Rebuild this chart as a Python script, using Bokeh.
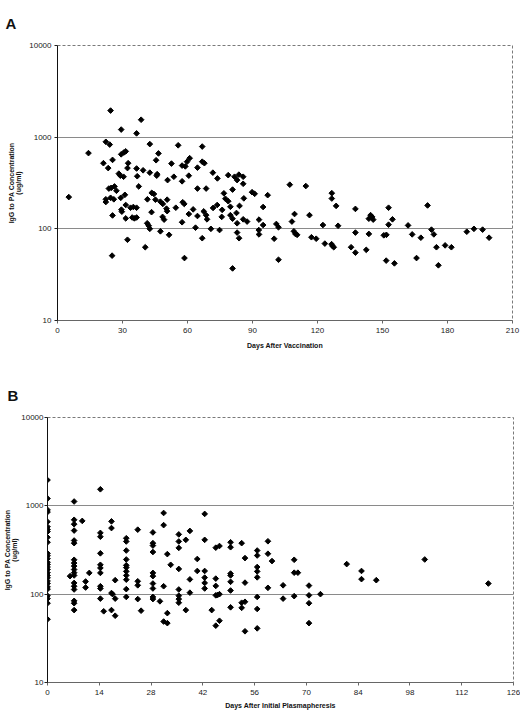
import numpy as np
from bokeh.plotting import figure
from bokeh.models import FixedTicker, PrintfTickFormatter, Range1d
from bokeh.embed import file_html
from bokeh.resources import INLINE

# ---- Panel A: days after vaccination vs IgG to PA (ug/ml) ----
a_days = [24.5, 38.6, 29.4, 36.5, 22.3, 24.1, 42.6, 55.7, 66.8, 14.3, 29.4, 30.6, 31.5, 46.6,
          21.2, 25.4, 23.4, 32.6, 32.3, 36.5, 39.5, 42.6, 45.5, 46.0, 45.8, 52.6, 57.5, 59.8,
          61.0, 59.0, 66.8, 67.8, 64.6, 28.3, 30.5, 29.0, 50.8, 53.7, 57.5, 60.6, 71.7, 73.8,
          78.8, 37.5, 23.7, 24.8, 26.3, 27.2, 22.3, 22.3, 24.5, 26.0, 29.2, 31.1, 29.5, 29.7,
          31.5, 33.7, 36.5, 35.0, 25.4, 31.5, 34.5, 35.5, 36.5, 41.5, 43.5, 44.5, 45.2, 47.5,
          48.6, 50.6, 50.3, 50.6, 43.4, 41.4, 42.1, 42.6, 48.5, 49.2, 47.5, 51.5, 54.6, 57.8,
          58.5, 60.6, 62.6, 57.5, 64.6, 68.6, 64.6, 67.5, 68.6, 69.0, 63.7, 66.8, 70.8, 71.8,
          73.7, 74.8, 76.0, 75.8, 76.8, 77.5, 78.8, 80.8, 79.8, 80.8, 25.2, 32.3, 40.5, 58.6,
          80.8, 5.2, 82.9, 83.8, 36.8,
          81.7, 82.9, 83.7, 85.7, 85.7, 79.8, 84.0, 86.0, 89.8, 91.0, 97.0, 94.9, 82.6, 82.9,
          85.7, 87.5, 93.0, 94.9, 92.9, 93.0, 101.0, 102.0, 100.0, 102.0, 107.2, 114.6, 109.4,
          108.2, 109.1, 109.8, 110.6, 116.3, 117.2, 119.4, 122.5, 123.4, 126.6, 126.6, 128.6,
          129.5, 126.5, 127.5, 126.9, 135.5, 137.5, 137.5, 137.5, 142.5, 143.7, 144.5, 145.2,
          145.7, 143.7,
          152.8, 154.6, 152.8, 150.6, 151.8, 151.7, 155.5, 161.8, 163.7, 167.7, 165.7, 170.8,
          172.6, 173.7, 174.9, 175.8, 178.9, 181.8, 188.9, 192.2, 196.2, 199.2]
a_vals = [1950, 1550, 1210, 1100, 890, 830, 840, 815, 790, 670, 650, 680, 700, 665,
          520, 565, 460, 520, 460, 455, 435, 410, 560, 395, 380, 515, 490, 540,
          590, 480, 540, 520, 465, 400, 370, 380, 340, 370, 330, 380, 410, 355,
          385, 290, 275, 280, 290, 260, 210, 196, 218, 210, 218, 235, 162, 154,
          182, 170, 170, 173, 140, 130, 133, 130, 133, 210, 247, 240, 208, 198,
          187, 208, 166, 156, 152, 115, 108, 100, 135, 126, 94, 86, 170, 195,
          187, 145, 163, 118, 275, 275, 138, 155, 141, 127, 103, 79, 100, 169,
          182, 97, 161, 135, 244, 213, 200, 268, 141, 129, 51, 76, 63, 48,
          37, 222, 91, 79, 375,
          370, 340, 390, 370, 310, 174, 178, 215, 251, 241, 233, 173, 149, 115,
          127, 120, 126, 110, 97, 87, 113, 104, 78, 46, 303, 293, 145,
          120, 94, 88, 86, 141, 81, 78, 110, 69, 245, 214, 178,
          108, 68, 63, 65, 63, 165, 91, 55, 59, 129, 141, 135,
          126, 88,
          170, 127, 111, 85, 86, 45, 42, 109, 87, 80, 48, 180,
          98, 87, 63, 40, 66, 63, 93, 100, 98, 80]

# ---- Panel B: days after initial plasmapheresis vs IgG to PA (ug/ml) ----
b_days = ([0.0] * 28 + [7.2] * 18 +
          [6.1, 9.4, 10.3, 10.3, 11.3] +
          [14.3] * 10 +
          [15.2, 17.3, 17.3, 17.3, 17.6, 18.3, 18.3, 17.3, 18.3] +
          [21.3] * 11 +
          [24.4] * 4 + [25.3] +
          [28.5] * 10 +
          [31.4, 31.4, 32.4, 33.3, 31.4, 30.4, 32.4, 31.4, 32.4] +
          [35.5] * 8 +
          [37.4, 38.5, 37.4, 38.5, 38.5, 40.5, 40.5] +
          [42.5] * 6 +
          [44.4, 45.5, 45.5, 45.5, 46.5, 45.5, 46.0, 46.5, 45.5, 46.5] +
          [49.5] * 7 +
          [52.5, 53.4, 53.4, 52.5, 53.4, 52.5, 53.4] +
          [56.7] * 8 +
          [59.6, 59.6, 60.7, 59.6, 63.7, 63.7, 66.7, 66.7, 67.7, 66.7] +
          [70.7] * 4 +
          [73.8, 80.9, 84.9, 84.9, 88.9, 102.0, 119.2])
b_vals = ([1960, 1210, 900, 850, 660, 580, 540, 510, 440, 387, 290, 272, 252, 230, 217, 203,
           190, 175, 163, 153, 141, 132, 121, 114, 96, 89, 79, 52] +
          [1120, 695, 620, 525, 405, 378, 245, 225, 208, 190, 175, 163, 134, 123, 113, 84, 79, 66] +
          [160, 675, 139, 119, 174] +
          [1540, 494, 447, 290, 215, 198, 174, 123, 116, 89] +
          [64, 667, 560, 103, 100, 89, 144, 66, 57] +
          [430, 395, 312, 247, 212, 200, 181, 163, 146, 114, 93] +
          [537, 140, 126, 88] + [65] +
          [500, 378, 355, 300, 174, 160, 132, 116, 93, 88] +
          [830, 605, 284, 215, 123, 83, 61, 49, 47] +
          [475, 395, 334, 193, 113, 96, 88, 80] +
          [412, 520, 66, 147, 104, 250, 183] +
          [810, 412, 183, 154, 134, 116] +
          [66, 150, 124, 336, 351, 97, 98, 100, 44, 50] +
          [387, 340, 171, 163, 138, 110, 71] +
          [378, 256, 135, 80, 82, 70, 38] +
          [312, 274, 203, 181, 155, 93, 68, 41] +
          [397, 287, 237, 118, 126, 89, 245, 175, 175, 95] +
          [125, 97, 79, 47] +
          [100, 219, 183, 148, 144, 247, 132])

y_ticks = [10, 100, 1000, 10000]
grid_ticks = [100, 1000]
a_xticks = [0, 30, 60, 90, 120, 150, 180, 210]
b_xticks = [0, 14, 28, 42, 56, 70, 84, 98, 112, 126]

FONT = "Liberation Sans"


def make_panel(days, vals, xticks, xlabel, letter, height, top, bottom, left, right,
               xlab_standoff, ylab_standoff, ytick_standoff, title_standoff):
    p = figure(width=520, height=height,
               x_range=Range1d(xticks[0], xticks[-1]), y_range=Range1d(10, 10000),
               y_axis_type="log", output_backend="svg", toolbar_location=None,
               min_border_left=left, min_border_right=right,
               min_border_top=top, min_border_bottom=bottom)
    p.background_fill_color = "white"
    p.border_fill_color = "white"
    p.outline_line_color = "#7a7a7a"
    p.outline_line_dash = "3 2"
    p.outline_line_width = 1

    p.xgrid.visible = False
    p.ygrid.ticker = FixedTicker(ticks=grid_ticks)
    p.ygrid.grid_line_color = "#8a8a8a"
    p.ygrid.grid_line_width = 1

    p.yaxis.ticker = FixedTicker(ticks=y_ticks)
    p.yaxis.formatter = PrintfTickFormatter(format="%d")
    p.xaxis.ticker = FixedTicker(ticks=xticks)
    for ax in (p.xaxis, p.yaxis):
        ax.minor_tick_line_color = None
        ax.major_tick_in = 0
        ax.major_tick_out = 3
        ax.major_tick_line_color = "#222222"
        ax.major_label_text_font = FONT
        ax.major_label_text_font_size = "8px"
        ax.major_label_text_color = "#222222"
        ax.axis_label_text_font = FONT
        ax.axis_label_text_font_size = "7px"
        ax.axis_label_text_font_style = "bold"
        ax.axis_label_text_color = "#111111"
        ax.axis_label_text_line_height = 1.1
    p.yaxis.axis_line_color = "#111111"
    p.yaxis.major_label_standoff = ytick_standoff
    p.xaxis.axis_line_color = "#666666"
    p.xaxis.major_tick_line_color = "#666666"
    p.xaxis.major_label_standoff = 4
    p.xaxis.axis_label_standoff = xlab_standoff
    p.yaxis.axis_label_standoff = ylab_standoff
    p.xaxis.axis_label = xlabel
    p.yaxis.axis_label = "IgG to PA Concentration\n(ug/ml)"

    # panel letter as the plot title, pushed to the top-left corner
    p.title.text = letter
    p.title.text_font = FONT
    p.title.text_font_size = "15px"
    p.title.text_font_style = "bold"
    p.title.text_color = "#111111"
    p.title.align = "left"
    p.title.vertical_align = "top"
    p.title.offset = -left + 5
    p.title.standoff = title_standoff

    p.scatter(days, vals, marker="square", angle=np.pi / 4, size=4.0,
              fill_color="black", line_color="black", line_width=1)
    return p


pa = make_panel(a_days, a_vals, a_xticks, "Days After Vaccination", "A",
                height=360, top=45, bottom=40, left=57, right=8,
                xlab_standoff=6, ylab_standoff=4, ytick_standoff=3, title_standoff=23)
pb = make_panel(b_days, b_vals, b_xticks, "Days After Initial Plasmapheresis", "B",
                height=353, top=57, bottom=31, left=45, right=7,
                xlab_standoff=4, ylab_standoff=0, ytick_standoff=1, title_standoff=23)

open("out.html", "w").write(file_html([pa, pb], INLINE))
